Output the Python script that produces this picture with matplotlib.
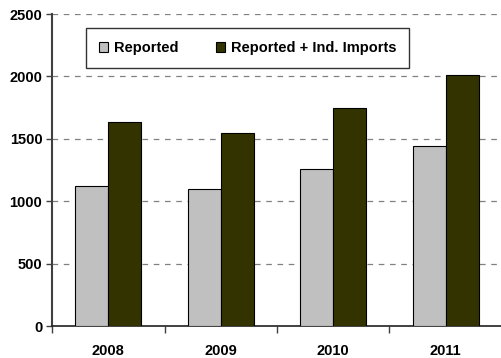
import matplotlib.pyplot as plt
import numpy as np

plt.rcParams['font.family'] = ['Liberation Sans', 'DejaVu Sans']
plt.rcParams['font.weight'] = 'bold'
plt.rcParams['font.size'] = 10.5

years = ['2008', '2009', '2010', '2011']
reported = [1120, 1100, 1260, 1440]
reported_ind = [1635, 1545, 1750, 2015]

fig = plt.figure(figsize=(5.02, 3.58), dpi=100)
ax = fig.add_axes([52/502, 1 - 326/358, 1 - 52/502, (326 - 14)/358])

x = np.arange(len(years))
w = 0.293
ax.bar(x - w/2, reported, w, color='#C0C0C0', edgecolor='black', linewidth=0.8,
       label='Reported', zorder=3)
ax.bar(x + w/2, reported_ind, w, color='#333300', edgecolor='black', linewidth=0.8,
       label='Reported + Ind. Imports', zorder=3)

ax.set_xlim(-0.5, 3.5)
ax.set_ylim(0, 2500)
ax.set_yticks(range(0, 2501, 500))
ax.set_xticks(x)
ax.set_xticklabels(years)
ax.set_xticks(np.arange(-0.5, 3.6, 1), minor=True)
ax.tick_params(axis='x', which='major', length=0, pad=13)
ax.tick_params(axis='x', which='minor', length=5, width=1, color='#404040')
ax.tick_params(axis='y', length=4, width=1, color='#404040', pad=3)

for v in range(500, 2501, 500):
    ax.axhline(v, color='#808080', linewidth=0.9, linestyle=(0, (4.5, 4.5)), zorder=1)

ax.spines['top'].set_visible(False)
ax.spines['right'].set_visible(False)
ax.spines['left'].set_color('#404040')
ax.spines['bottom'].set_color('#202020')
ax.spines['left'].set_linewidth(1.5)
ax.spines['bottom'].set_linewidth(1.2)

leg = ax.legend(ncol=2, loc='upper left', bbox_to_anchor=(34/450, 298/312),
                borderaxespad=0, frameon=True, fancybox=False, edgecolor='black',
                handlelength=0.6, handleheight=0.6, handletextpad=0.4,
                columnspacing=2.6, borderpad=0.9, fontsize=10.5)
leg.get_frame().set_linewidth(1.0)

fig.savefig('out.png', dpi=100)
